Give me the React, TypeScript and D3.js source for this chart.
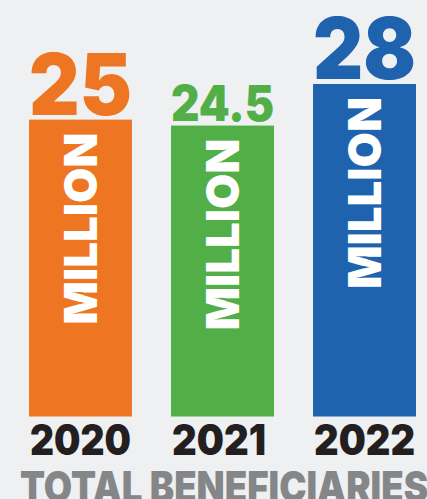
import React from "react";
import * as d3 from "d3";

const years = ["2020", "2021", "2022"];
const values = [25, 24.5, 28];
const valueLabels = ["25", "24.5", "28"];
const colors = ["#ee7623", "#52ae47", "#1f62ae"];
const unitLabel = "MILLION";
const title = "TOTAL BENEFICIARIES";

const W = 427;
const H = 499;
const FONT = "'Inter', 'Lato', 'DejaVu Sans', sans-serif";

export default function App() {
  const x = d3.scaleBand<string>().domain(years).range([29, 416]).paddingInner(0.275).paddingOuter(0);
  const y = d3.scaleLinear().domain([0, 28]).range([416.5, 84]);
  const bw = x.bandwidth();

  const effChars = (s: string) => s.split("").reduce((a, c) => a + (c === "." ? 0.5 : 1), 0);

  return (
    <svg
      width={W}
      height={H}
      style={{ position: "fixed", left: 0, top: 0, display: "block", background: "#eff0f2" }}
    >
      <rect x={0} y={0} width={W} height={H} fill="#eff0f2" />
      {years.map((yr, i) => {
        const x0 = x(yr)!;
        const top = y(values[i]);
        const fs = ((bw / effChars(valueLabels[i])) * 1.2) / 0.72;
        const cx = x0 + bw / 2;
        return (
          <g key={yr}>
            <rect x={x0} y={top} width={bw} height={y(0) - top} fill={colors[i]} />
            <text
              x={x0}
              y={top - 5}
              fill={colors[i]}
              fontFamily={FONT}
              fontWeight={900}
              fontSize={fs}
              textLength={bw}
              lengthAdjust="spacingAndGlyphs"
            >
              {valueLabels[i]}
            </text>
            <text
              transform={`translate(${cx + 16.5},${top + 13}) rotate(-90)`}
              textAnchor="end"
              fill="#ffffff"
              fontFamily={FONT}
              fontWeight={900}
              fontSize={46}
              textLength={192}
              lengthAdjust="spacingAndGlyphs"
            >
              {unitLabel}
            </text>
            <text
              x={x0 + 1}
              y={455}
              fill="#231f20"
              fontFamily={FONT}
              fontWeight={900}
              fontSize={42}
              textLength={yr.endsWith("1") ? 94 : 101}
              lengthAdjust="spacingAndGlyphs"
            >
              {yr}
            </text>
          </g>
        );
      })}
      <text
        x={20}
        y={502}
        fill="#858688"
        fontFamily={FONT}
        fontWeight={900}
        fontSize={42}
        textLength={408}
        lengthAdjust="spacingAndGlyphs"
      >
        {title}
      </text>
    </svg>
  );
}
